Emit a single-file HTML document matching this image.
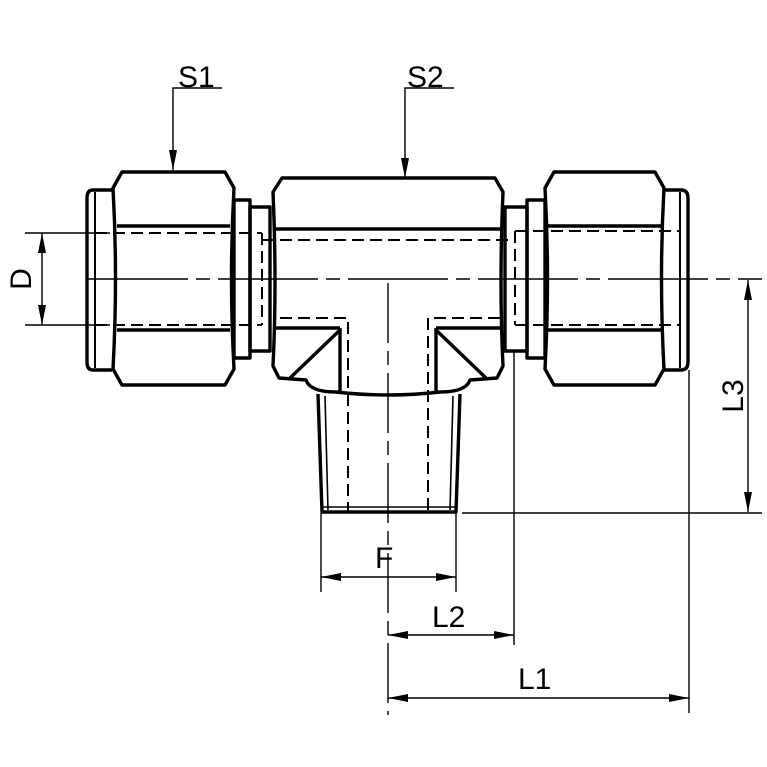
<!DOCTYPE html>
<html><head><style>html,body{margin:0;padding:0;background:#fff}svg{display:block}</style></head><body>
<svg width="767" height="767" viewBox="0 0 767 767" xmlns="http://www.w3.org/2000/svg" font-family="Liberation Sans, sans-serif">
<defs>
<marker id="a" viewBox="0 0 20 8" refX="20" refY="4" markerWidth="20" markerHeight="8" markerUnits="userSpaceOnUse" orient="auto-start-reverse"><path d="M0,0 L20,4 L0,8 z" fill="#000"/></marker>
</defs>
<rect width="767" height="767" fill="#fff"/>
<g stroke="#000" stroke-width="1.4" fill="none">
  <line x1="88" y1="279" x2="762" y2="279" stroke-dasharray="100,8,14,8"/>
  <line x1="388" y1="283" x2="388" y2="715" stroke-dasharray="60,8,14,8"/>
  <line x1="25" y1="233" x2="110" y2="233"/>
  <line x1="25" y1="325" x2="110" y2="325"/>
  <line x1="42" y1="233" x2="42" y2="325" marker-start="url(#a)" marker-end="url(#a)"/>
  <line x1="462" y1="513" x2="762" y2="513"/>
  <line x1="748" y1="280" x2="748" y2="512" marker-start="url(#a)" marker-end="url(#a)"/>
  <line x1="321" y1="513" x2="321" y2="592"/>
  <line x1="456" y1="513" x2="456" y2="592"/>
  <line x1="514" y1="352" x2="514" y2="645"/>
  <line x1="689" y1="370" x2="689" y2="713"/>
  <line x1="321" y1="577" x2="456" y2="577" marker-start="url(#a)" marker-end="url(#a)"/>
  <line x1="388" y1="635" x2="514" y2="635" marker-start="url(#a)" marker-end="url(#a)"/>
  <line x1="388" y1="698" x2="689" y2="698" marker-start="url(#a)" marker-end="url(#a)"/>
  <polyline points="222,88 173,88 173,170" marker-end="url(#a)"/>
  <polyline points="454,88 405,88 405,178" marker-end="url(#a)"/>
</g>
<g stroke="#000" stroke-width="2" fill="none" stroke-dasharray="12,6">
  <line x1="95" y1="233" x2="262" y2="233"/>
  <line x1="95" y1="325" x2="262" y2="325"/>
  <line x1="262" y1="233" x2="262" y2="325"/>
  <line x1="262" y1="240" x2="515" y2="240"/>
  <polyline points="280,318 348,318 348,512"/>
  <polyline points="500,318 428,318 428,512"/>
  <line x1="515" y1="231" x2="515" y2="325"/>
  <line x1="515" y1="231" x2="680" y2="231"/>
  <line x1="515" y1="325" x2="680" y2="325"/>
</g>
<g stroke="#000" stroke-width="3.4" fill="none" stroke-linejoin="round">
  <path d="M112,190 L93,190 Q87,190 87,198 L87,362 Q87,370 93,370 L112,370"/>
  <line x1="95" y1="192" x2="95" y2="368" stroke-width="2"/>
  <path d="M122,172 L225,172 L234,188 Q229,278 234,369 L225,385 L122,385 L113,369 Q118,278 113,188 Z"/>
  <line x1="117" y1="226" x2="230" y2="226"/>
  <line x1="117" y1="330" x2="230" y2="330"/>
  <rect x="234" y="200" width="16" height="158"/>
  <rect x="250" y="207" width="20" height="144"/>
  <path d="M282,178 L495,178 L503,192 Q499,285 503,366 L497,378 L470,380 Q466,392 440,392 Q388,398 336,392 Q310,392 306,380 L279,378 L273,366 Q277,285 273,192 Z"/>
  <line x1="276" y1="229" x2="500" y2="229"/>
  <line x1="276" y1="328" x2="340" y2="328"/>
  <line x1="436" y1="328" x2="500" y2="328"/>
  <line x1="340" y1="328" x2="340" y2="392"/>
  <line x1="436" y1="328" x2="436" y2="392"/>
  <line x1="340" y1="330" x2="290" y2="378"/>
  <line x1="436" y1="330" x2="486" y2="378"/>
  <path d="M318,394 L322,512 L456,512 L460,394"/>
  <line x1="325" y1="396" x2="328" y2="510" stroke-width="1.6"/>
  <line x1="453" y1="396" x2="450" y2="510" stroke-width="1.6"/>
  <line x1="322" y1="507" x2="456" y2="507" stroke-width="1.6"/>
  <rect x="505" y="207" width="22" height="144"/>
  <rect x="527" y="200" width="18" height="158"/>
  <path d="M554,172 L655,172 L664,188 Q659,278 664,369 L655,385 L554,385 L545,369 Q550,278 545,188 Z"/>
  <line x1="548" y1="226" x2="661" y2="226"/>
  <line x1="548" y1="330" x2="661" y2="330"/>
  <path d="M664,190 L681,190 Q688,190 688,198 L688,362 Q688,370 681,370 L664,370"/>
  <line x1="680" y1="192" x2="680" y2="368" stroke-width="2"/>
</g>
<g font-size="30" fill="#000">
  <text x="178" y="87">S1</text>
  <text x="407" y="87">S2</text>
  <text x="375" y="568">F</text>
  <text x="432" y="627">L2</text>
  <text x="518" y="689">L1</text>
  <text transform="translate(31,279) rotate(-90)" text-anchor="middle">D</text>
  <text transform="translate(743,396) rotate(-90)" text-anchor="middle">L3</text>
</g>
</svg>
</body></html>
